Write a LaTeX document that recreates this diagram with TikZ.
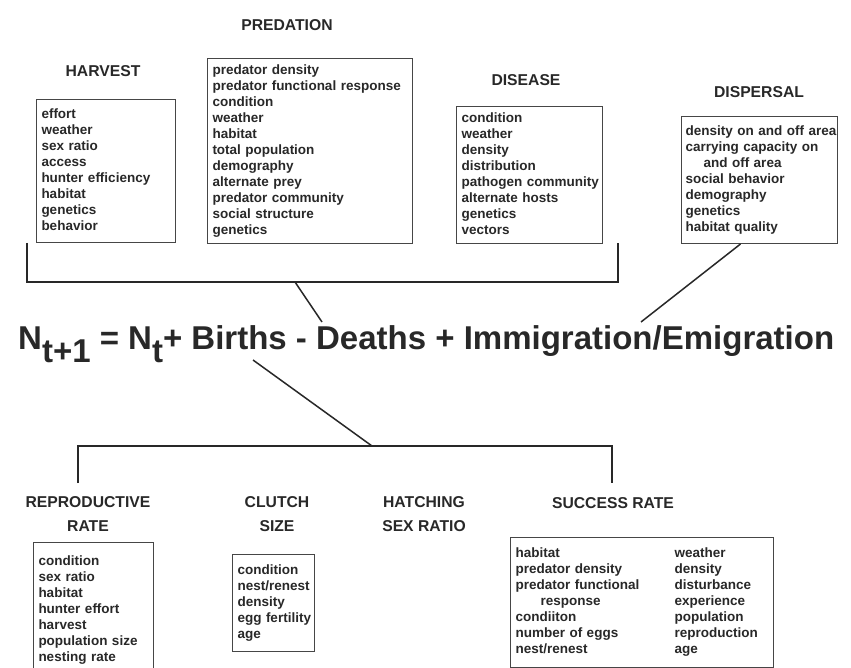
\documentclass[tikz,border=0pt]{standalone}
\usepackage{fontspec}
\setmainfont{Liberation Sans}
\usepackage{array}
\usetikzlibrary{positioning}
\definecolor{ink}{RGB}{40, 40, 40}
\definecolor{frame}{RGB}{70, 70, 70}
\newcommand{\factlist}[1]{\begin{tabular}{@{}l@{}}#1\end{tabular}}

\begin{document}
\begin{tikzpicture}[x=1pt, y=-1pt,
   factbox/.style={draw=frame, line width=1, anchor=north west, text=ink,
                   inner xsep=5, inner ysep=0,
                   font=\fontsize{13.5}{16}\selectfont\bfseries},
   head/.style={text=ink, align=center, inner sep=0,
                font=\fontsize{15.7}{24}\selectfont\bfseries},
   link/.style={draw=ink, line width=1.5}
  ]
  \fill[white] (0, 0) rectangle (851, 668);
  \useasboundingbox (0, 0) rectangle (851, 668);

  % causes of death and movement
  \node (predtitle) at (287, 25) [head] {PREDATION};
  \node (harvtitle) at (103, 71) [head] {HARVEST};
  \node (distitle) at (526, 80) [head] {DISEASE};
  \node (disptitle) at (759, 92) [head] {DISPERSAL};

  \node (harvest) at (36, 99) [factbox, text width=129, minimum height=143]
    {\factlist{effort\\ weather\\ sex ratio\\ access\\ hunter efficiency\\
               habitat\\ genetics\\ behavior}};
  \node (predation) at (207, 58) [factbox, text width=195, minimum height=185]
    {\factlist{predator density\\ predator functional response\\ condition\\
               weather\\ habitat\\ total population\\ demography\\ alternate prey\\
               predator community\\ social structure\\ genetics}};
  \node (disease) at (456, 106) [factbox, text width=136, minimum height=137]
    {\factlist{condition\\ weather\\ density\\ distribution\\ pathogen community\\
               alternate hosts\\ genetics\\ vectors}};
  \node (dispersal) at (681, 116) [factbox, inner xsep=4, text width=148, minimum height=127]
    {\factlist{density on and off area\\ carrying capacity on\\
               \hspace*{18pt}and off area\\ social behavior\\ demography\\
               genetics\\ habitat quality}};

  % the equation
  \node (eq) at (18, 349) [anchor=base west, inner sep=0, text=ink,
                           font=\fontsize{33}{33}\selectfont\bfseries]
    {N\raisebox{-13pt}{t+1} = N\raisebox{-13pt}{t}+ Births - Deaths + Immigration/Emigration};

  % components of births
  \node (reprotitle) at (88, 514) [head] {REPRODUCTIVE\\ RATE};
  \node (clutchtitle) at (277, 514) [head] {CLUTCH\\ SIZE};
  \node (hatchtitle) at (424, 514) [head] {HATCHING\\ SEX RATIO};
  \node (succtitle) at (613, 503) [head] {SUCCESS RATE};

  \node (repro) at (33, 542) [factbox, text width=110, minimum height=135]
    {\factlist{condition\\ sex ratio\\ habitat\\ hunter effort\\ harvest\\
               population size\\ nesting rate}};
  \node (clutch) at (232, 554) [factbox, text width=72, minimum height=97]
    {\factlist{condition\\ nest/renest\\ density\\ egg fertility\\ age}};
  \node (success) at (510, 537) [factbox, text width=253, minimum height=130]
    {\begin{tabular}{@{}p{159pt}@{}l@{}}
       habitat & weather\\
       predator density & density\\
       predator functional & disturbance\\
       \hspace*{25pt}response & experience\\
       condiiton & population\\
       number of eggs & reproduction\\
       nest/renest & age
     \end{tabular}};

  % brackets and links
  \coordinate (upL) at (27, 243);
  \coordinate (upR) at (618, 243);
  \coordinate (upM) at (295, 282);
  \coordinate (deaths) at (322, 322);
  \coordinate (immig) at (641, 322);
  \coordinate (births) at (253, 360);
  \coordinate (lowM) at (372, 446);
  \coordinate (lowL) at (78, 483);
  \coordinate (lowR) at (612, 483);

  \draw[link] (upL) |- (upM) -| (upR);
  \draw[link] (upM) -- (deaths);
  \draw[link] ([xshift=-19]dispersal.south) -- (immig);
  \draw[link] (births) -- (lowM);
  \draw[link] (lowL) |- (lowM) -| (lowR);

\end{tikzpicture}
\end{document}
